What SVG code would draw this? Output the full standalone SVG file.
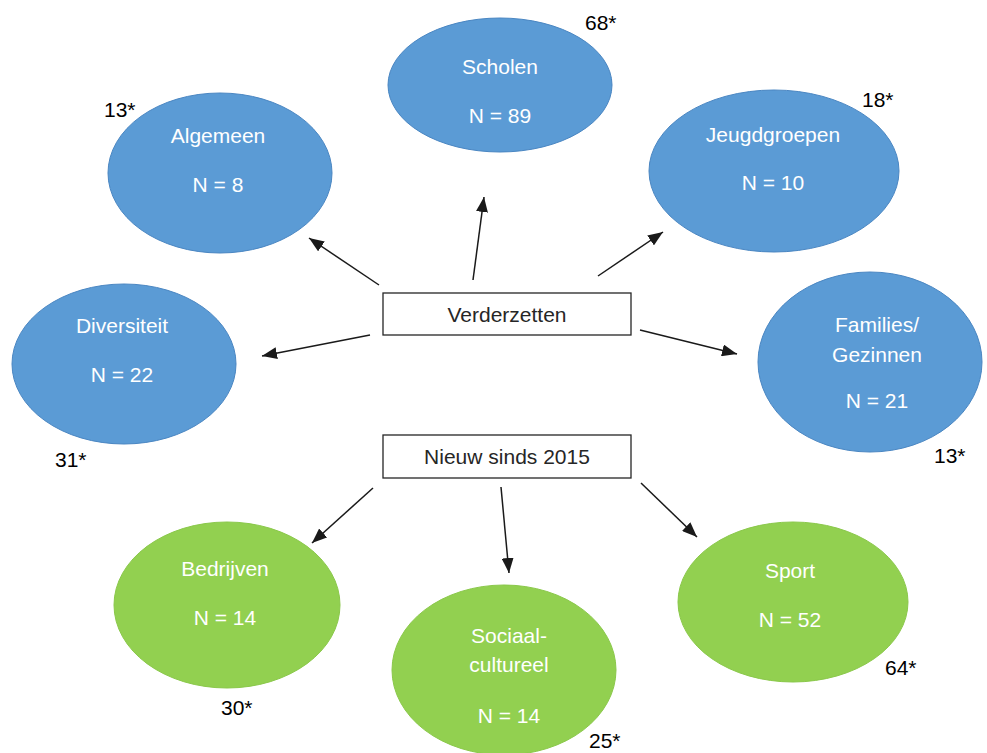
<svg xmlns="http://www.w3.org/2000/svg" width="987" height="753" viewBox="0 0 987 753">
<style>
.blue{fill:#5B9BD5;stroke:#4A86C2;stroke-width:1}
.green{fill:#92D050;stroke:#8AC84A;stroke-width:1}
.in{font-family:"Liberation Sans",Arial,sans-serif;font-size:21px;fill:#FFFFFF;text-anchor:middle}
.lbl{font-family:"Liberation Sans",Arial,sans-serif;font-size:21px;fill:#000000}
.box{fill:#FFFFFF;stroke:#262626;stroke-width:1.3}
.bt{font-family:"Liberation Sans",Arial,sans-serif;font-size:21px;fill:#262626;text-anchor:middle}
.conn{stroke:#1a1a1a;stroke-width:1.5;fill:none;marker-end:url(#ah)}
</style>
<defs>
<marker id="ah" markerUnits="userSpaceOnUse" markerWidth="16" markerHeight="12" refX="15" refY="6" orient="auto">
<path d="M0,0 L15,6 L0,12 z" fill="#1a1a1a"/>
</marker>
</defs>
<rect width="987" height="753" fill="#FFFFFF"/>

<g id="scholen">
<ellipse class="blue" cx="500" cy="85" rx="112" ry="67"/>
<text class="in" x="500" y="74">Scholen</text>
<text class="in" x="500" y="123">N = 89</text>
<text class="lbl" x="585" y="30">68*</text>
</g>

<g id="algemeen">
<ellipse class="blue" cx="220" cy="173" rx="112" ry="80"/>
<text class="in" x="218" y="143">Algemeen</text>
<text class="in" x="218" y="192">N = 8</text>
<text class="lbl" x="104" y="117">13*</text>
</g>

<g id="jeugdgroepen">
<ellipse class="blue" cx="774" cy="171" rx="125" ry="81"/>
<text class="in" x="773" y="142">Jeugdgroepen</text>
<text class="in" x="773" y="190">N = 10</text>
<text class="lbl" x="862" y="107">18*</text>
</g>

<g id="diversiteit">
<ellipse class="blue" cx="124" cy="364" rx="112" ry="80"/>
<text class="in" x="122" y="333">Diversiteit</text>
<text class="in" x="122" y="382">N = 22</text>
<text class="lbl" x="55" y="467">31*</text>
</g>

<g id="families">
<ellipse class="blue" cx="870" cy="362" rx="112" ry="90"/>
<text class="in" x="877" y="332">Families/</text>
<text class="in" x="877" y="362">Gezinnen</text>
<text class="in" x="877" y="408">N = 21</text>
<text class="lbl" x="934" y="463">13*</text>
</g>

<g id="bedrijven">
<ellipse class="green" cx="227" cy="605" rx="113" ry="83"/>
<text class="in" x="225" y="576">Bedrijven</text>
<text class="in" x="225" y="625">N = 14</text>
<text class="lbl" x="221" y="715">30*</text>
</g>

<g id="sociaal">
<ellipse class="green" cx="504" cy="670" rx="112" ry="85"/>
<text class="in" x="509" y="643">Sociaal-</text>
<text class="in" x="509" y="672">cultureel</text>
<text class="in" x="509" y="723">N = 14</text>
<text class="lbl" x="589" y="748">25*</text>
</g>

<g id="sport">
<ellipse class="green" cx="793" cy="602" rx="115" ry="80"/>
<text class="in" x="790" y="578">Sport</text>
<text class="in" x="790" y="627">N = 52</text>
<text class="lbl" x="885" y="675">64*</text>
</g>

<g id="verderzetten">
<rect class="box" x="383" y="293" width="248" height="42"/>
<text class="bt" x="507" y="322">Verderzetten</text>
</g>

<g id="nieuw">
<rect class="box" x="383" y="435" width="248" height="43"/>
<text class="bt" x="507" y="464">Nieuw sinds 2015</text>
</g>

<g id="connectors">
<line class="conn" x1="379" y1="285" x2="309" y2="238"/>
<line class="conn" x1="473" y1="280" x2="484" y2="197"/>
<line class="conn" x1="598" y1="276" x2="663" y2="232"/>
<line class="conn" x1="370" y1="335" x2="262" y2="356"/>
<line class="conn" x1="640" y1="330" x2="737" y2="354"/>
<line class="conn" x1="373" y1="488" x2="312" y2="543"/>
<line class="conn" x1="501" y1="487" x2="509" y2="573"/>
<line class="conn" x1="641" y1="483" x2="697" y2="537"/>
</g>
</svg>
